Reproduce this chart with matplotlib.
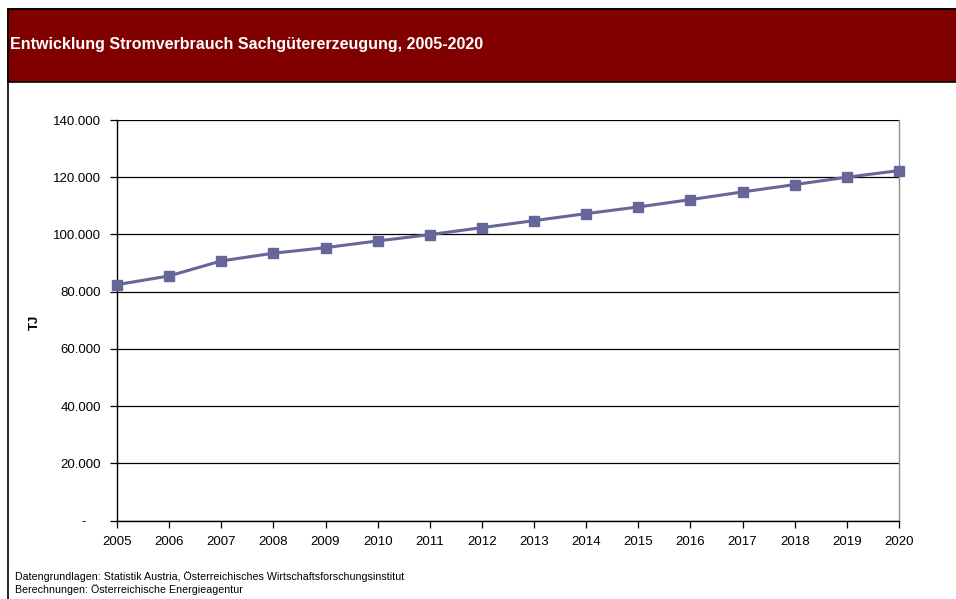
import matplotlib
matplotlib.use("Agg")
import matplotlib.pyplot as plt
from matplotlib.patches import Rectangle
from matplotlib.ticker import FuncFormatter, MultipleLocator

plt.rcParams['font.family'] = ['Liberation Sans', 'DejaVu Sans']

# Stromverbrauch der Sachgütererzeugung in TJ
years = [2005, 2006, 2007, 2008, 2009, 2010, 2011, 2012,
         2013, 2014, 2015, 2016, 2017, 2018, 2019, 2020]
consumption_tj = [82450, 85490, 90740, 93430, 95390, 97730, 99930, 102380,
                  104820, 107270, 109610, 112170, 114860, 117420, 120000, 122310]

title = "Entwicklung Stromverbrauch Sachgütererzeugung, 2005-2020"
y_label = "TJ"
footer = ["Datengrundlagen: Statistik Austria, Österreichisches Wirtschaftsforschungsinstitut",
          "Berechnungen: Österreichische Energieagentur"]

W, H = 956, 599
fig = plt.figure(figsize=(W / 100, H / 100), dpi=100)

# outer frame and header bar
fig.patches.append(Rectangle((8 / W, -0.1), 1.2, 1 - 9 / H + 0.1, transform=fig.transFigure,
                             facecolor='white', edgecolor='black', linewidth=1.2, zorder=-3))
fig.patches.append(Rectangle((8 / W, 1 - 82 / H), 1.2, 73 / H, transform=fig.transFigure,
                             facecolor='#800000', edgecolor='black', linewidth=1.2, zorder=-2))
fig.text(10 / W, 1 - 45 / H, title, color='white', fontsize=11.5, fontweight='bold',
         va='center', ha='left')

ax = fig.add_axes([117 / W, 1 - 520.5 / H, (899 - 117) / W, (520.5 - 120) / H])
ax.patch.set_alpha(0)
ax.plot(years, consumption_tj, color='#666699', linewidth=2.2, marker='s',
        markersize=7, markerfacecolor='#666699', markeredgecolor='#666699', zorder=3,
        clip_on=False)

ax.set_xlim(2005, 2020)
ax.set_ylim(0, 140000)
ax.set_xticks(years)
ax.yaxis.set_major_locator(MultipleLocator(20000))

def fmt(v, pos):
    if v == 0:
        return "-    "
    return f"{int(v):,}".replace(",", ".")

ax.yaxis.set_major_formatter(FuncFormatter(fmt))
ax.grid(axis='y', color='black', linewidth=0.9)
ax.set_axisbelow(True)
ax.tick_params(axis='both', direction='out', length=5, width=0.9, labelsize=9.5,
               colors='black', pad=6)
ax.tick_params(axis='y', pad=6.5)
for side in ['left', 'bottom']:
    ax.spines[side].set_color('black')
    ax.spines[side].set_linewidth(1.0)
ax.spines['top'].set_visible(False)
ax.spines['right'].set_color('#909090')
ax.spines['right'].set_linewidth(1.0)

fig.text(35 / W, 1 - 322 / H, y_label, rotation=90, fontsize=9.5, fontweight='bold',
         va='center', ha='center')

fig.text(15 / W, 1 - 577 / H, footer[0], fontsize=7.7, va='center', ha='left')
fig.text(15 / W, 1 - 590 / H, footer[1], fontsize=7.7, va='center', ha='left')

fig.savefig("out.png", dpi=100)
